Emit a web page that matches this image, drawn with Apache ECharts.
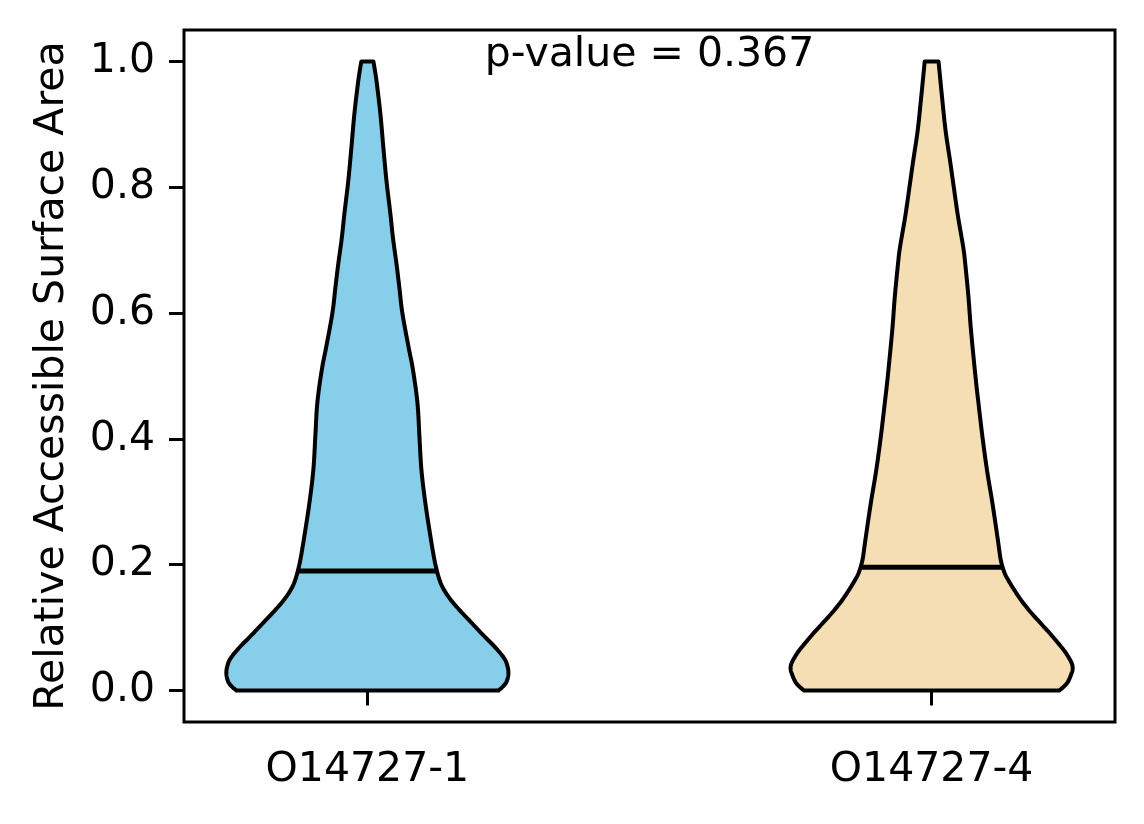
<!DOCTYPE html>
<html>
<head>
<meta charset="utf-8">
<script src="https://cdn.jsdelivr.net/npm/echarts@6/dist/echarts.min.js"></script>
<style>
  html, body { margin: 0; padding: 0; background: #fff; }
  #chart { width: 1144px; height: 824px; }
</style>
</head>
<body>
<div id="chart"></div>
<script>
// ---- data ----
const categories = ['O14727-1', 'O14727-4'];
const positions = [1, 2];
const medians = [0.19, 0.196];
const pValueText = 'p-value = 0.367';
const yTicks = [0.0, 0.2, 0.4, 0.6, 0.8, 1.0];

// KDE profiles (value, normalised density)
const kdeY1 = [0, 0.012, 0.028, 0.044, 0.054, 0.070, 0.086, 0.102, 0.113, 0.129, 0.142, 0.155, 0.168, 0.181, 0.192, 0.208, 0.245, 0.298, 0.351, 0.404, 0.457, 0.510, 0.547, 0.600, 0.640, 0.679, 0.720, 0.758, 0.811, 0.864, 0.917, 0.970, 1.0];
const kdeD1 = [0.929, 0.982, 1.000, 0.986, 0.961, 0.901, 0.830, 0.762, 0.716, 0.649, 0.599, 0.557, 0.525, 0.504, 0.491, 0.475, 0.447, 0.411, 0.383, 0.369, 0.355, 0.323, 0.291, 0.248, 0.227, 0.206, 0.181, 0.163, 0.135, 0.113, 0.092, 0.064, 0.043];
const kdeY2 = [0, 0.012, 0.028, 0.036, 0.044, 0.054, 0.065, 0.078, 0.092, 0.105, 0.118, 0.131, 0.144, 0.157, 0.171, 0.184, 0.197, 0.210, 0.224, 0.245, 0.298, 0.351, 0.404, 0.457, 0.499, 0.573, 0.626, 0.679, 0.705, 0.758, 0.837, 0.890, 0.943, 1.0];
const kdeD2 = [0.905, 0.961, 0.993, 1.000, 0.992, 0.968, 0.935, 0.887, 0.834, 0.781, 0.728, 0.678, 0.633, 0.594, 0.555, 0.523, 0.502, 0.488, 0.479, 0.466, 0.431, 0.392, 0.360, 0.332, 0.311, 0.279, 0.261, 0.238, 0.224, 0.184, 0.134, 0.099, 0.074, 0.049];

// ---- style ----
const fillColors = ['#87CEEB', '#F5DEB3'];
const violinWidth = 0.5;
const FONT = 'DejaVu Sans';
const FS = 41;

const profiles = [
  { y: kdeY1, d: kdeD1 },
  { y: kdeY2, d: kdeD2 }
];

function densityAt(p, v) {
  for (let i = 0; i < p.y.length - 1; i++) {
    if (v >= p.y[i] && v <= p.y[i + 1]) {
      const t = (v - p.y[i]) / (p.y[i + 1] - p.y[i]);
      return p.d[i] + t * (p.d[i + 1] - p.d[i]);
    }
  }
  return 0;
}

// Catmull-Rom through pixel points (rendering only)
function smoothPath(pts, steps) {
  const out = [pts[0]];
  const n = pts.length;
  for (let i = 0; i < n - 1; i++) {
    const p0 = pts[Math.max(i - 1, 0)];
    const p1 = pts[i];
    const p2 = pts[i + 1];
    const p3 = pts[Math.min(i + 2, n - 1)];
    for (let s = 1; s <= steps; s++) {
      const t = s / steps;
      const t2 = t * t, t3 = t2 * t;
      const x = 0.5 * ((2 * p1[0]) + (-p0[0] + p2[0]) * t + (2 * p0[0] - 5 * p1[0] + 4 * p2[0] - p3[0]) * t2 + (-p0[0] + 3 * p1[0] - 3 * p2[0] + p3[0]) * t3);
      const y = 0.5 * ((2 * p1[1]) + (-p0[1] + p2[1]) * t + (2 * p0[1] - 5 * p1[1] + 4 * p2[1] - p3[1]) * t2 + (-p0[1] + 3 * p1[1] - 3 * p2[1] + p3[1]) * t3);
      out.push([x, y]);
    }
  }
  return out;
}

const chart = echarts.init(document.getElementById('chart'), null, { renderer: 'canvas' });

const option = {
  animation: false,
  backgroundColor: '#ffffff',
  grid: {
    left: 184, right: 29, top: 30, bottom: 102,
    show: true, borderColor: '#000', borderWidth: 3, backgroundColor: 'transparent'
  },
  xAxis: {
    type: 'value',
    min: 0.675, max: 2.325,
    splitLine: { show: false },
    axisLine: { show: false },
    axisTick: { show: true, customValues: positions, length: 15, lineStyle: { color: '#000', width: 3 } },
    axisLabel: {
      customValues: positions,
      formatter: v => categories[positions.indexOf(Math.round(v))] || '',
      color: '#000', fontFamily: FONT, fontSize: FS, margin: 28
    }
  },
  yAxis: {
    type: 'value',
    min: -0.05, max: 1.05,
    name: 'Relative Accessible Surface Area',
    nameLocation: 'middle',
    nameGap: 111,
    nameTextStyle: { color: '#000', fontFamily: FONT, fontSize: FS },
    splitLine: { show: false },
    axisLine: { show: false },
    axisTick: { show: true, customValues: yTicks, length: 15, lineStyle: { color: '#000', width: 3 } },
    axisLabel: {
      customValues: yTicks,
      formatter: v => Number(v).toFixed(1),
      color: '#000', fontFamily: FONT, fontSize: FS, margin: 29
    }
  },
  series: [{
    type: 'custom',
    data: positions.map((p, i) => [p, medians[i]]),
    renderItem: function (params, api) {
      const i = params.dataIndex;
      const pos = api.value(0);
      const med = api.value(1);
      const prof = profiles[i];
      const half = violinWidth / 2;
      const left = [], right = [];
      for (let k = 0; k < prof.y.length; k++) {
        left.push(api.coord([pos - prof.d[k] * half, prof.y[k]]));
        right.push(api.coord([pos + prof.d[k] * half, prof.y[k]]));
      }
      const leftS = smoothPath(left, 8);
      const rightS = smoothPath(right, 8).reverse();
      const pts = leftS.concat(rightS);
      const mhw = densityAt(prof, med) * half;
      const a = api.coord([pos - mhw, med]);
      const b = api.coord([pos + mhw, med]);
      return {
        type: 'group',
        children: [
          {
            type: 'polygon',
            shape: { points: pts },
            style: { fill: fillColors[i], stroke: '#000', lineWidth: 4, lineJoin: 'round' }
          },
          {
            type: 'line',
            shape: { x1: a[0], y1: a[1], x2: b[0], y2: b[1] },
            style: { stroke: '#000', lineWidth: 5 }
          }
        ]
      };
    }
  }]
};

chart.setOption(option);

const centerPx = chart.convertToPixel({ gridIndex: 0 }, [(positions[0] + positions[1]) / 2, 1.0]);
chart.setOption({
  graphic: [{
    type: 'text',
    x: centerPx[0],
    y: 55,
    style: {
      text: pValueText,
      fill: '#000',
      font: FS + 'px "' + FONT + '"',
      textAlign: 'center',
      textVerticalAlign: 'middle'
    }
  }]
});
</script>
</body>
</html>
